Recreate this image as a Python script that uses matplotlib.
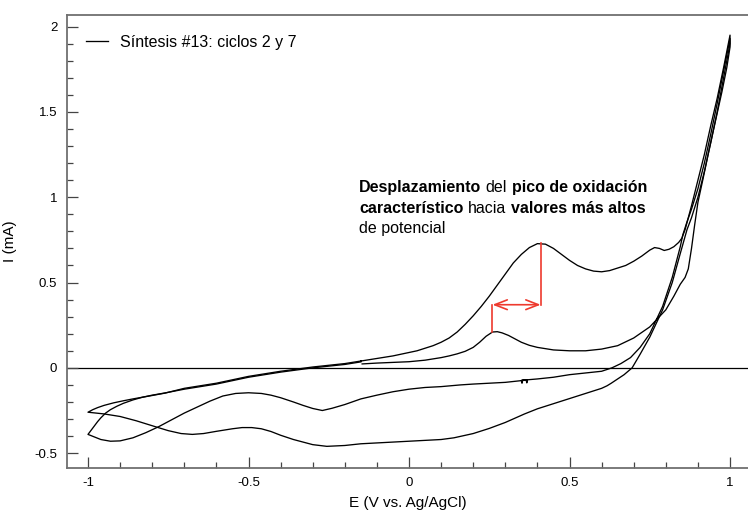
import matplotlib
matplotlib.use("Agg")
import matplotlib.pyplot as plt
from matplotlib.offsetbox import TextArea, HPacker, VPacker, AnchoredOffsetbox
from matplotlib.ticker import FixedLocator, FixedFormatter, MultipleLocator

plt.rcParams['font.family'] = ['Liberation Sans', 'DejaVu Sans']

# ---- cycle 2 (oxidation peak near 0.26 V) ----
e_anod2 = [-0.146, -0.1, -0.05, 0.0, 0.05, 0.1, 0.125, 0.15, 0.175, 0.2, 0.22, 0.24, 0.26,
           0.275, 0.29, 0.31, 0.33, 0.35, 0.375, 0.4, 0.45, 0.5, 0.55, 0.6, 0.65, 0.7, 0.75,
           0.8, 0.825, 0.845, 0.86, 0.87, 0.88, 0.89, 0.90, 0.915, 0.935, 0.955, 0.975, 0.99,
           1.0]
i_anod2 = [0.023, 0.028, 0.032, 0.036, 0.045, 0.06, 0.07, 0.082, 0.097, 0.12, 0.15, 0.185,
           0.21, 0.212, 0.205, 0.19, 0.17, 0.15, 0.132, 0.12, 0.105, 0.10, 0.10, 0.11, 0.13,
           0.175, 0.24, 0.34, 0.42, 0.49, 0.53, 0.58, 0.70, 0.84, 0.97, 1.10, 1.28, 1.45, 1.62,
           1.76, 1.88]
e_cat2 = [1.0, 0.98, 0.96, 0.94, 0.92, 0.9, 0.88, 0.865, 0.853, 0.845, 0.82, 0.79, 0.75, 0.72,
          0.69, 0.66, 0.632, 0.6, 0.55, 0.5, 0.45, 0.4, 0.35, 0.352, 0.354, 0.365, 0.367, 0.369,
          0.3, 0.2, 0.16, 0.1, 0.05, 0.0, -0.05, -0.1, -0.15, -0.2, -0.24, -0.27, -0.3, -0.33,
          -0.36, -0.4, -0.43, -0.46, -0.5, -0.54, -0.58, -0.62, -0.66, -0.7, -0.74, -0.78,
          -0.82, -0.86, -0.9, -0.93, -0.96, -0.98, -1.0]
i_cat2 = [1.93, 1.74, 1.55, 1.37, 1.20, 1.05, 0.93, 0.85, 0.78, 0.71, 0.53, 0.36, 0.20, 0.12,
          0.06, 0.025, 0.0, -0.02, -0.03, -0.04, -0.055, -0.065, -0.073, -0.09, -0.073, -0.071,
          -0.088, -0.071, -0.085, -0.095, -0.10, -0.11, -0.115, -0.125, -0.14, -0.16, -0.182,
          -0.215, -0.237, -0.25, -0.238, -0.22, -0.2, -0.175, -0.16, -0.15, -0.146, -0.15,
          -0.165, -0.195, -0.23, -0.265, -0.305, -0.345, -0.38, -0.41, -0.428, -0.43, -0.42,
          -0.405, -0.39]
e_ret2 = [-1.0, -0.99, -0.98, -0.97, -0.96, -0.945, -0.93, -0.91, -0.89, -0.86, -0.83, -0.8,
          -0.76, -0.7, -0.6, -0.5, -0.45, -0.4, -0.3, -0.2, -0.15]
i_ret2 = [-0.39, -0.365, -0.34, -0.315, -0.293, -0.265, -0.245, -0.225, -0.208, -0.188,
          -0.172, -0.16, -0.147, -0.125, -0.095, -0.055, -0.04, -0.025, 0.0, 0.02, 0.035]

# ---- cycle 7 (oxidation peak near 0.41 V) ----
e_anod7 = [-0.15, -0.1, -0.05, 0.0, 0.025, 0.05, 0.075, 0.1, 0.125, 0.15, 0.175, 0.2, 0.225,
           0.25, 0.275, 0.3, 0.325, 0.35, 0.375, 0.4, 0.425, 0.45, 0.475, 0.5, 0.525, 0.55,
           0.575, 0.6, 0.625, 0.65, 0.675, 0.7, 0.725, 0.75, 0.765, 0.78, 0.795, 0.81, 0.825,
           0.84, 0.85, 0.86, 0.88, 0.90, 0.92, 0.94, 0.96, 0.98, 1.0]
i_anod7 = [0.04, 0.055, 0.07, 0.09, 0.10, 0.115, 0.13, 0.15, 0.175, 0.21, 0.255, 0.305, 0.36,
           0.42, 0.485, 0.55, 0.615, 0.665, 0.705, 0.728, 0.725, 0.70, 0.665, 0.63, 0.60,
           0.58, 0.567, 0.563, 0.57, 0.585, 0.60, 0.625, 0.655, 0.69, 0.705, 0.70, 0.688,
           0.695, 0.71, 0.735, 0.76, 0.81, 0.95, 1.10, 1.25, 1.42, 1.58, 1.76, 1.95]
e_cat7 = [1.0, 0.98, 0.96, 0.94, 0.92, 0.9, 0.88, 0.866, 0.845, 0.82, 0.79, 0.75, 0.72, 0.695,
          0.67, 0.65, 0.63, 0.617, 0.6, 0.55, 0.5, 0.45, 0.4, 0.36, 0.3, 0.25, 0.2, 0.14, 0.1,
          0.05, 0.0, -0.05, -0.1, -0.15, -0.2, -0.256, -0.3, -0.33, -0.36, -0.4, -0.43, -0.46,
          -0.49, -0.52, -0.55, -0.6, -0.64, -0.675, -0.71, -0.75, -0.79, -0.85, -0.9, -0.95,
          -1.0]
i_cat7 = [1.90, 1.70, 1.50, 1.32, 1.15, 1.0, 0.88, 0.81, 0.67, 0.50, 0.34, 0.18, 0.08, 0.0,
          -0.04, -0.065, -0.09, -0.105, -0.12, -0.15, -0.18, -0.21, -0.24, -0.27, -0.32,
          -0.355, -0.385, -0.41, -0.42, -0.425, -0.43, -0.435, -0.44, -0.445, -0.455, -0.46,
          -0.45, -0.435, -0.42, -0.395, -0.373, -0.357, -0.35, -0.35, -0.357, -0.372, -0.385,
          -0.39, -0.385, -0.368, -0.345, -0.31, -0.285, -0.27, -0.26]
e_ret7 = [-1.0, -0.985, -0.97, -0.95, -0.92, -0.89, -0.86, -0.83, -0.8, -0.76, -0.7, -0.6,
          -0.5, -0.45, -0.4, -0.3, -0.2, -0.15]
i_ret7 = [-0.26, -0.245, -0.233, -0.22, -0.205, -0.193, -0.182, -0.172, -0.162, -0.148, -0.12,
          -0.09, -0.05, -0.035, -0.02, 0.005, 0.025, 0.04]

# peak shift marker
peak_E = [0.26, 0.41]
peak_I = [0.21, 0.73]
shift_I = 0.37

x_ticks = [-1, -0.5, 0, 0.5, 1]
x_labels = ['-1', '-0.5', '0', '0.5', '1']
y_ticks = [-0.5, 0, 0.5, 1, 1.5, 2]
y_labels = ['-0.5', '0', '0.5', '1', '1.5', '2']

legend_label = 'Síntesis #13: ciclos 2 y 7'
note_lines = [
    [('Desplazamiento', 'bold'), ('del', 'normal'), ('pico de oxidación', 'bold')],
    [('característico', 'bold'), ('hacia', 'normal'), ('valores más altos', 'bold')],
    [('de potencial', 'normal')],
]

W, H = 748, 514
fig = plt.figure(figsize=(W / 100, H / 100), dpi=100)
ax = fig.add_axes([67 / W, 1 - 467.5 / H, 1 - 67 / W, 452.5 / H])

ax.axhline(0, color='black', lw=0.9, zorder=1)

e2 = e_anod2 + e_cat2 + e_ret2
i2 = i_anod2 + i_cat2 + i_ret2
e7 = e_anod7 + e_cat7 + e_ret7
i7 = i_anod7 + i_cat7 + i_ret7
ax.plot(e2, i2, color='black', lw=0.95, label=legend_label)
ax.plot(e7, i7, color='black', lw=0.95)

red = '#ee3a2e'
ax.plot([peak_E[0], peak_E[0]], [peak_I[0], shift_I], color=red, lw=1.2)
ax.plot([peak_E[1], peak_E[1]], [shift_I, peak_I[1]], color=red, lw=1.2)
ax.annotate('', xy=(peak_E[0], shift_I), xytext=(peak_E[1], shift_I),
            arrowprops=dict(arrowstyle='<->,head_length=0.9,head_width=0.35',
                            color=red, lw=1.2, shrinkA=0, shrinkB=0))

ax.set_xlim(-1.0654, 1.056)
ax.set_ylim(-0.584, 2.068)

ax.xaxis.set_major_locator(FixedLocator(x_ticks))
ax.xaxis.set_major_formatter(FixedFormatter(x_labels))
ax.yaxis.set_major_locator(FixedLocator(y_ticks))
ax.yaxis.set_major_formatter(FixedFormatter(y_labels))
ax.xaxis.set_minor_locator(MultipleLocator(0.1))
ax.yaxis.set_minor_locator(MultipleLocator(0.1))
ax.tick_params(which='both', direction='in', colors='#444444', labelcolor='black',
               labelsize=9.5, top=False, right=False)
ax.tick_params(which='major', length=8, width=0.9, pad=7)
ax.tick_params(which='minor', length=4, width=0.9)

for side in ['left', 'bottom', 'top']:
    ax.spines[side].set_color('#707070')
    ax.spines[side].set_linewidth(1.3)
ax.spines['right'].set_visible(False)

ax.set_xlabel('E (V vs. Ag/AgCl)', fontsize=11)
ax.set_ylabel('I (mA)', fontsize=11)
ax.xaxis.set_label_coords(0.5, -0.062)
ax.yaxis.set_label_coords(-0.074, 0.5)

ax.legend(loc='center left', bbox_to_anchor=(86 / W, 1 - 42 / H),
          bbox_transform=fig.transFigure, frameon=False, fontsize=11.5,
          handlelength=1.4, handletextpad=0.7, borderpad=0, borderaxespad=0)

rows = []
for line in note_lines:
    parts = [TextArea(t, textprops=dict(fontsize=11.5, fontweight=w, color='black'))
             for t, w in line]
    rows.append(HPacker(children=parts, align='baseline', pad=0, sep=3.2))
note = VPacker(children=rows, align='left', pad=0, sep=4)
box = AnchoredOffsetbox(loc='upper left', child=note, pad=0, borderpad=0, frameon=False,
                        bbox_to_anchor=(359 / W, 1 - 180 / H),
                        bbox_transform=fig.transFigure)
ax.add_artist(box)

fig.savefig('out.png', dpi=100)
